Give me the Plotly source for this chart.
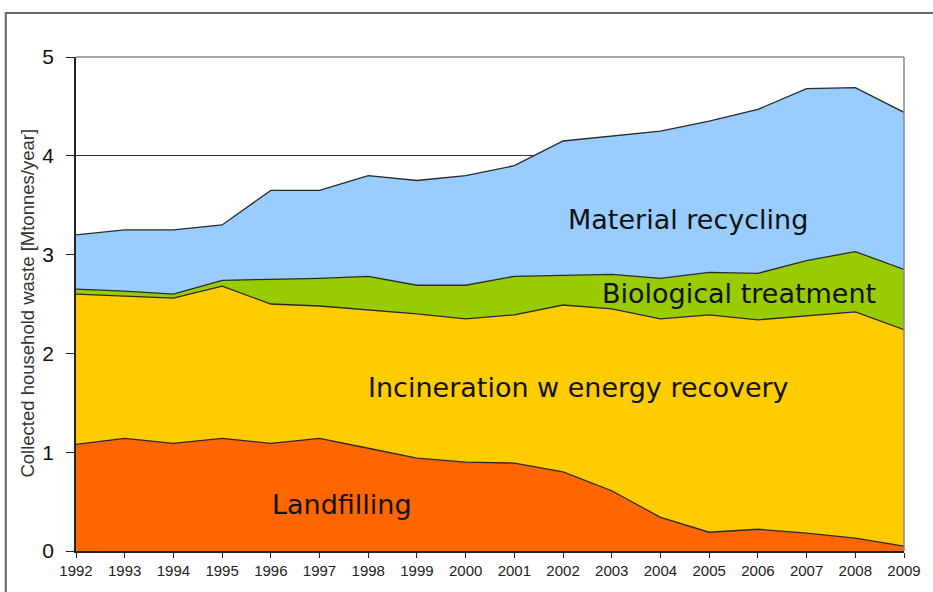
import plotly.graph_objects as go

years = list(range(1992, 2010))
landfilling = [1.08, 1.14, 1.09, 1.14, 1.09, 1.14, 1.04, 0.94, 0.90, 0.89, 0.80, 0.61, 0.34, 0.19, 0.22, 0.18, 0.13, 0.05]
incineration = [1.52, 1.44, 1.47, 1.54, 1.41, 1.34, 1.40, 1.46, 1.45, 1.50, 1.69, 1.84, 2.01, 2.20, 2.12, 2.20, 2.29, 2.19]
biological = [0.05, 0.05, 0.04, 0.06, 0.25, 0.28, 0.34, 0.29, 0.34, 0.39, 0.30, 0.35, 0.41, 0.43, 0.47, 0.56, 0.61, 0.61]
recycling = [0.55, 0.62, 0.65, 0.56, 0.90, 0.89, 1.02, 1.06, 1.11, 1.12, 1.36, 1.40, 1.49, 1.53, 1.66, 1.74, 1.66, 1.59]

series_names = ["Landfilling", "Incineration w energy recovery", "Biological treatment", "Material recycling"]
series_values = [landfilling, incineration, biological, recycling]
series_colors = ["#FF6600", "#FFCC00", "#99CC00", "#99CCFF"]
y_ticks = [0, 1, 2, 3, 4, 5]
y_title = "Collected household waste [Mtonnes/year]"

fig = go.Figure()
for name, vals, col in zip(series_names, series_values, series_colors):
    fig.add_trace(go.Scatter(
        x=years, y=vals, name=name, stackgroup="one", mode="lines",
        line=dict(color="#2a2a2a", width=1.3), fillcolor=col,
        hoverinfo="x+y+name"))

label_font = dict(family="DejaVu Sans, Verdana, sans-serif", size=27, color="#111111")
labels = [
    ("Material recycling", 2004.57, 3.36),
    ("Biological treatment", 2005.62, 2.61),
    ("Incineration w energy recovery", 2002.32, 1.65),
    ("Landfilling", 1997.47, 0.47),
]
for txt, x, y in labels:
    fig.add_annotation(x=x, y=y, xref="x", yref="y", text=txt, showarrow=False,
                       font=label_font, xanchor="center", yanchor="middle")

fig.add_annotation(x=-0.0597, y=0.502, xref="paper", yref="paper", text=y_title,
                   textangle=-90, showarrow=False, xanchor="center", yanchor="middle",
                   font=dict(family="Liberation Sans, Arial, sans-serif", size=18.5, color="#333"))

# plot-area border (top and right)
fig.add_shape(type="line", xref="paper", yref="paper", x0=0, x1=1, y0=1, y1=1,
              line=dict(color="#888888", width=1.5))
fig.add_shape(type="line", xref="paper", yref="paper", x0=1, x1=1, y0=0, y1=1,
              line=dict(color="#888888", width=1.5))
# outer chart frame
fig.add_shape(type="rect", xref="paper", yref="paper", x0=-0.0848, x1=1.05, y0=-0.2, y1=1.089,
              line=dict(color="#666666", width=2), fillcolor="rgba(0,0,0,0)")

fig.update_layout(
    width=933, height=592,
    margin=dict(l=76, r=20, t=57, b=41),
    paper_bgcolor="white", plot_bgcolor="white",
    showlegend=False,
    xaxis=dict(range=[1992, 2009], tickmode="array", tickvals=years,
               ticktext=[str(y) for y in years],
               tickfont=dict(family="Liberation Sans Narrow, Arial Narrow, sans-serif", size=15, color="#222"),
               showgrid=False, zeroline=False, showline=True, linecolor="#222", linewidth=1.5,
               ticks="outside", ticklen=5, tickcolor="#222"),
    yaxis=dict(range=[0, 5], tickvals=y_ticks,
               tickfont=dict(family="Liberation Sans, Arial, sans-serif", size=21, color="#111"),
               showgrid=True, gridcolor="#333333", gridwidth=1, zeroline=False,
               showline=True, linecolor="#222", linewidth=1.5,
               ticks="outside", ticklen=8, tickcolor="#222", ticklabelstandoff=8),
)

fig.write_html("out.html", config={"displayModeBar": False},
               post_script="document.body.style.margin='0';document.body.style.overflow='hidden';")
